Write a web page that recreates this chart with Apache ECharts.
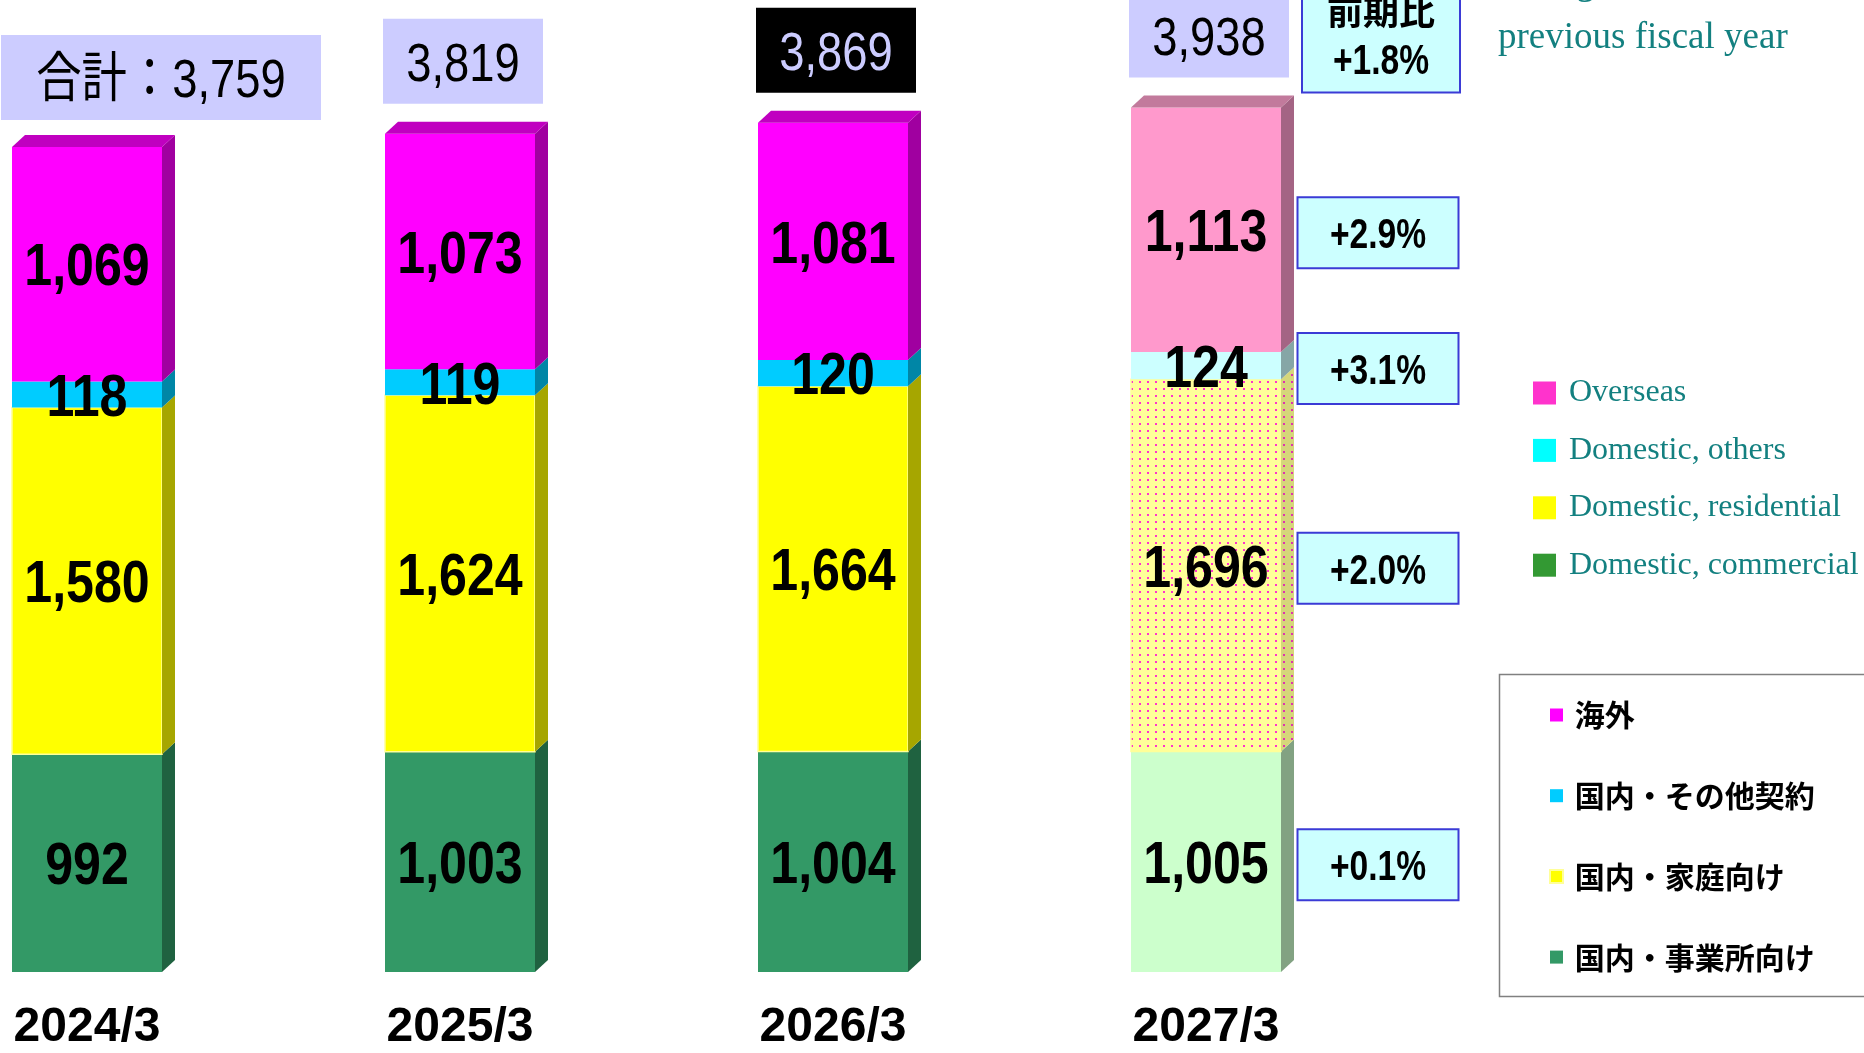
<!DOCTYPE html>
<html>
<head>
<meta charset="utf-8">
<title>契約数の推移</title>
<script src="https://cdn.jsdelivr.net/npm/echarts@6/dist/echarts.min.js"></script>
<style>
  body { margin: 0; background: #fff; }
  #main { width: 1864px; height: 1053px; }
</style>
</head>
<body>
<div id="main"></div>
<script>
// data
const categories = ['2024/3', '2025/3', '2026/3', '2027/3'];
const commercial = [992, 1003, 1004, 1005];
const residential = [1580, 1624, 1664, 1696];
const others = [118, 119, 120, 124];
const overseas = [1069, 1073, 1081, 1113];
const seriesNames = ['国内・事業所向け', '国内・家庭向け', '国内・その他契約', '海外'];
const englishNames = ['Domestic, commercial', 'Domestic, residential', 'Domestic, others', 'Overseas'];
const changeLabels = ['+0.1%', '+2.0%', '+3.1%', '+2.9%'];
const totalChangeLabel = '+1.8%';

const layers = [commercial, residential, others, overseas];
const FORECAST = 3;
const BAR_W = 150, DX = 13, DY = 12;
const SANS = '"Liberation Sans", Arial, "Noto Sans CJK JP", sans-serif';
const SERIF = '"Liberation Serif", "DejaVu Serif", serif';
const CJK = '"Noto Sans CJK JP", sans-serif';

function dots(bg, dot) {
  const c = document.createElement('canvas');
  c.width = 8; c.height = 7;
  const g = c.getContext('2d');
  g.fillStyle = bg; g.fillRect(0, 0, 8, 7);
  g.fillStyle = dot; g.fillRect(3, 3, 2, 2);
  return { image: c, repeat: 'repeat' };
}

const actualStyle = [
  { front: '#339966', side: '#1F6240' },
  { front: '#FFFF00', side: '#A6A600', stroke: '#FFFF99' },
  { front: '#00CCFF', side: '#0086A6' },
  { front: '#FF00FF', side: '#A000A0', top: '#C000C0' }
];
const forecastStyle = [
  { front: '#CCFFCC', side: '#82A282' },
  { front: dots('#FFFF99', '#FF33CC'), side: dots('#D6D67A', '#E030B0'), stroke: '#FFFF99' },
  { front: '#CCFFFF', side: '#86A6A6' },
  { front: '#FF99CC', side: '#A46484', top: '#C27A9C' }
];

// stacked bases/tops
const stacks = [];
const totals = categories.map(() => 0);
layers.forEach((arr, li) => {
  stacks.push(arr.map((v, ci) => {
    const base = totals[ci];
    totals[ci] += v;
    return [ci, base, totals[ci], v];
  }));
});

function fmt(v) { return v.toLocaleString('en-US'); }

function layerRender(li) {
  return function (params, api) {
    const ci = api.value(0);
    const pB = api.coord([ci, api.value(1)]);
    const pT = api.coord([ci, api.value(2)]);
    const st = ci === FORECAST ? forecastStyle[li] : actualStyle[li];
    const x0 = pB[0] - BAR_W / 2, x1 = pB[0] + BAR_W / 2;
    const children = [
      { type: 'rect', shape: { x: x0, y: pT[1], width: BAR_W, height: pB[1] - pT[1] },
        style: { fill: st.front, stroke: st.stroke || null, lineWidth: st.stroke ? 1.5 : 0 } },
      { type: 'polygon', shape: { points: [[x1, pT[1]], [x1 + DX, pT[1] - DY], [x1 + DX, pB[1] - DY], [x1, pB[1]]] },
        style: { fill: st.side } }
    ];
    if (st.top) {
      children.push({ type: 'polygon',
        shape: { points: [[x0, pT[1]], [x0 + DX, pT[1] - DY], [x1 + DX, pT[1] - DY], [x1, pT[1]]] },
        style: { fill: st.top } });
    }
    return { type: 'group', children: children };
  };
}

const series = layers.map((arr, li) => ({
  name: seriesNames[li],
  type: 'custom',
  renderItem: layerRender(li),
  encode: { x: 0, y: [1, 2] },
  itemStyle: { color: actualStyle[li].front },
  data: stacks[li]
}));

// value labels on top of everything
const labelData = [];
stacks.forEach(s => s.forEach(d => labelData.push([d[0], (d[1] + d[2]) / 2, d[3]])));
series.push({
  name: 'labels', type: 'custom', z: 5,
  encode: { x: 0, y: 1 },
  data: labelData,
  renderItem: function (params, api) {
    const p = api.coord([api.value(0), api.value(1)]);
    return { type: 'text', x: p[0], y: p[1] + 5, scaleX: 0.85,
      style: { text: fmt(api.value(2)), fill: '#000', font: 'bold 59px ' + SANS,
        align: 'center', verticalAlign: 'middle' } };
  }
});

// total boxes
series.push({
  name: 'totals', type: 'custom', z: 5,
  encode: { x: 0, y: 1 },
  data: totals.map((t, ci) => [ci, t]),
  renderItem: function (params, api) {
    const ci = api.value(0);
    const p = api.coord([ci, api.value(1)]);
    const cx = p[0];
    let bx, bw, bottom;
    if (ci === 0) { bx = cx - 86; bw = 320; bottom = p[1] - 27; }
    else { bx = cx - 77; bw = 160; bottom = p[1] - 30; }
    const bh = 85;
    const dark = ci === 2;
    const txt = (ci === 0 ? '合計：' : '') + fmt(api.value(1));
    const children = [
      { type: 'rect', shape: { x: bx, y: bottom - bh, width: bw, height: bh },
        style: { fill: dark ? '#000' : '#CCCCFF' } },
      { type: 'text', x: bx + bw / 2, y: bottom - bh / 2 + 5, scaleX: 0.84,
        style: { text: txt, fill: dark ? '#CCCCFF' : '#000', font: '54px ' + SANS,
          align: 'center', verticalAlign: 'middle' } }
    ];
    if (ci === FORECAST) {
      const tx = cx + 96, tw = 158, tb = p[1] - 15, th = 140;
      children.push(
        { type: 'rect', shape: { x: tx, y: tb - th, width: tw, height: th },
          style: { fill: '#CCFFFF', stroke: '#3B3BD6', lineWidth: 2 } },
        { type: 'text', x: tx + tw / 2, y: p[1] - 96,
          style: { text: '前期比', fill: '#000', font: 'bold 36px ' + CJK, align: 'center', verticalAlign: 'middle' } },
        { type: 'text', x: tx + tw / 2, y: p[1] - 45, scaleX: 0.8,
          style: { text: totalChangeLabel, fill: '#000', font: 'bold 42px ' + SANS, align: 'center', verticalAlign: 'middle' } }
      );
    }
    return { type: 'group', children: children };
  }
});

// change boxes next to the forecast bar
series.push({
  name: 'changes', type: 'custom', z: 5,
  encode: { x: 0, y: 1 },
  data: stacks.map(s => [s[FORECAST][0], (s[FORECAST][1] + s[FORECAST][2]) / 2]),
  renderItem: function (params, api) {
    const p = api.coord([api.value(0), api.value(1)]);
    const bw = 161, bh = 71;
    const bx = p[0] + 172 - bw / 2, by = p[1] + 3 - bh / 2;
    return { type: 'group', children: [
      { type: 'rect', shape: { x: bx, y: by, width: bw, height: bh },
        style: { fill: '#CCFFFF', stroke: '#3B3BD6', lineWidth: 2 } },
      { type: 'text', x: bx + bw / 2, y: by + bh / 2 + 4, scaleX: 0.8,
        style: { text: changeLabels[params.dataIndex], fill: '#000', font: 'bold 42px ' + SANS,
          align: 'center', verticalAlign: 'middle' } }
    ] };
  }
});

const chart = echarts.init(document.getElementById('main'));
chart.setOption({
  animation: false,
  backgroundColor: '#fff',
  grid: { left: 87, right: 658, top: 94, bottom: 81, containLabel: false, outerBoundsMode: 'none' },
  xAxis: {
    type: 'category', data: categories, boundaryGap: false,
    axisLine: { show: false }, axisTick: { show: false }, splitLine: { show: false },
    axisLabel: { margin: 32, color: '#000', fontSize: 48, fontWeight: 'bold', fontFamily: SANS, lineHeight: 48 }
  },
  yAxis: { type: 'value', min: 0, max: 4000, show: false },
  legend: [
    {
      orient: 'vertical', left: 1533, top: 377, padding: 0, selectedMode: false,
      icon: 'rect', itemWidth: 23, itemHeight: 23, itemGap: 25.4,
      textStyle: { fontFamily: SERIF, fontSize: 32, color: '#138080', lineHeight: 23 },
      formatter: name => ' ' + englishNames[seriesNames.indexOf(name)],
      data: [
        { name: '海外', itemStyle: { color: '#FF33CC' } },
        { name: '国内・その他契約', itemStyle: { color: '#00FFFF' } },
        { name: '国内・家庭向け', itemStyle: { color: '#FFFF00' } },
        { name: '国内・事業所向け', itemStyle: { color: '#339933' } }
      ]
    },
    {
      orient: 'vertical', left: 1549, top: 700, padding: 0, selectedMode: false,
      icon: 'rect', itemWidth: 13, itemHeight: 13, itemGap: 50.7,
      textStyle: { fontFamily: CJK, fontSize: 30, fontWeight: 'bold', color: '#000', lineHeight: 30 },
      formatter: name => ' ' + name,
      data: [
        { name: '海外', itemStyle: { color: '#FF00FF' } },
        { name: '国内・その他契約', itemStyle: { color: '#00CCFF' } },
        { name: '国内・家庭向け', itemStyle: { color: '#FFFF00', borderColor: '#FFFF99', borderWidth: 2 } },
        { name: '国内・事業所向け', itemStyle: { color: '#339966' } }
      ]
    }
  ],
  graphic: [
    { type: 'rect', left: 1497, top: 672, shape: { width: 366, height: 322 },
      style: { fill: 'none', stroke: '#808080', lineWidth: 1.5 } },
    { type: 'text', x: 59, y: -13, style: { text: 'Total', fill: '#138080', font: 'bold 36px ' + SERIF, verticalAlign: 'middle' } },
    { type: 'text', x: 1498, y: -16, style: { text: 'Change from the', fill: '#138080', font: '37px ' + SERIF, verticalAlign: 'middle' } },
    { type: 'text', x: 1498, y: 38, style: { text: 'previous fiscal year', fill: '#138080', font: '37px ' + SERIF, verticalAlign: 'middle' } }
  ],
  series: series
});
</script>
</body>
</html>
